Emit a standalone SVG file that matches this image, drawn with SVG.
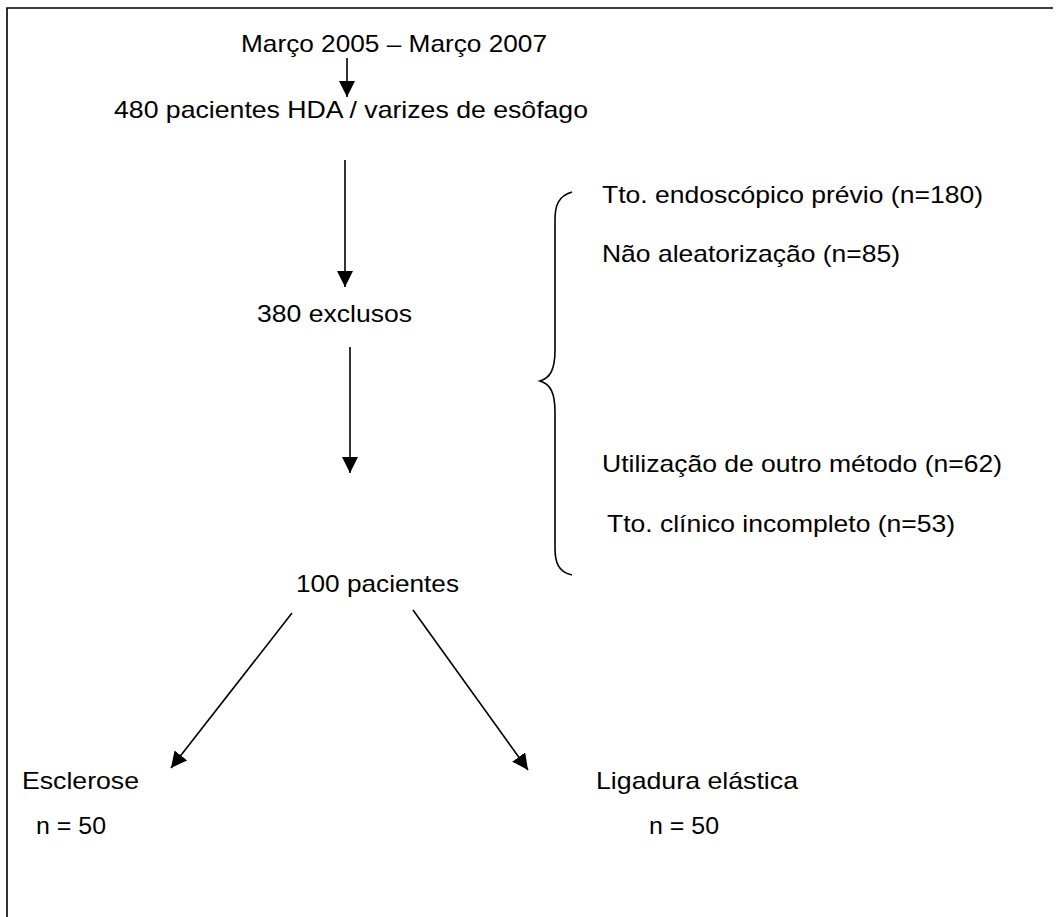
<svg xmlns="http://www.w3.org/2000/svg" width="1060" height="917" viewBox="0 0 1060 917">
<defs>
<style>
text{font-family:"Liberation Sans",Arial,sans-serif;font-size:24px;fill:#000}
.ln{stroke:#000;stroke-width:1.6;fill:none}
</style>
<marker id="ah" viewBox="0 0 16 16" refX="16" refY="8" markerWidth="16" markerHeight="16" markerUnits="userSpaceOnUse" orient="auto">
<path d="M0,0 L16,8 L0,16 Z" fill="#000"/>
</marker>
</defs>
<rect width="1060" height="917" fill="#fff"/>
<g id="frame"><path class="ln" d="M7,917 V8 H1053"/></g>
<g id="n-periodo"><text x="241" y="52" textLength="306" lengthAdjust="spacingAndGlyphs">Março 2005 – Março 2007</text></g>
<g id="n-480"><text x="114" y="118" textLength="474" lengthAdjust="spacingAndGlyphs">480 pacientes HDA / varizes de esôfago</text></g>
<g id="n-380"><text x="257" y="322" textLength="155" lengthAdjust="spacingAndGlyphs">380 exclusos</text></g>
<g id="n-exclusoes">
<path class="ln" d="M572,192 C558,196 555,206 555,220 V350 C555,370 550,378 540,381 C550,384 555,392 555,412 V548 C555,562 558,572 572,575"/>
<text x="602" y="203" textLength="381" lengthAdjust="spacingAndGlyphs">Tto. endoscópico prévio (n=180)</text>
<text x="602" y="262" textLength="298" lengthAdjust="spacingAndGlyphs">Não aleatorização (n=85)</text>
<text x="602" y="472" textLength="400" lengthAdjust="spacingAndGlyphs">Utilização de outro método (n=62)</text>
<text x="607" y="532" textLength="348" lengthAdjust="spacingAndGlyphs">Tto. clínico incompleto (n=53)</text>
</g>
<g id="n-100"><text x="296" y="592" textLength="163" lengthAdjust="spacingAndGlyphs">100 pacientes</text></g>
<g id="n-esclerose">
<text x="22" y="789" textLength="117" lengthAdjust="spacingAndGlyphs">Esclerose</text>
<text x="36" y="834" textLength="70" lengthAdjust="spacingAndGlyphs">n = 50</text>
</g>
<g id="n-ligadura">
<text x="596" y="789" textLength="202" lengthAdjust="spacingAndGlyphs">Ligadura elástica</text>
<text x="649" y="834" textLength="70" lengthAdjust="spacingAndGlyphs">n = 50</text>
</g>
<g id="connectors">
<line class="ln" x1="347" y1="58" x2="347" y2="97" marker-end="url(#ah)"/>
<line class="ln" x1="345" y1="160" x2="345" y2="287" marker-end="url(#ah)"/>
<line class="ln" x1="350" y1="347" x2="350" y2="473" marker-end="url(#ah)"/>
<line class="ln" x1="292" y1="613" x2="171" y2="768" marker-end="url(#ah)"/>
<line class="ln" x1="413" y1="610" x2="528" y2="770" marker-end="url(#ah)"/>
</g>
</svg>
